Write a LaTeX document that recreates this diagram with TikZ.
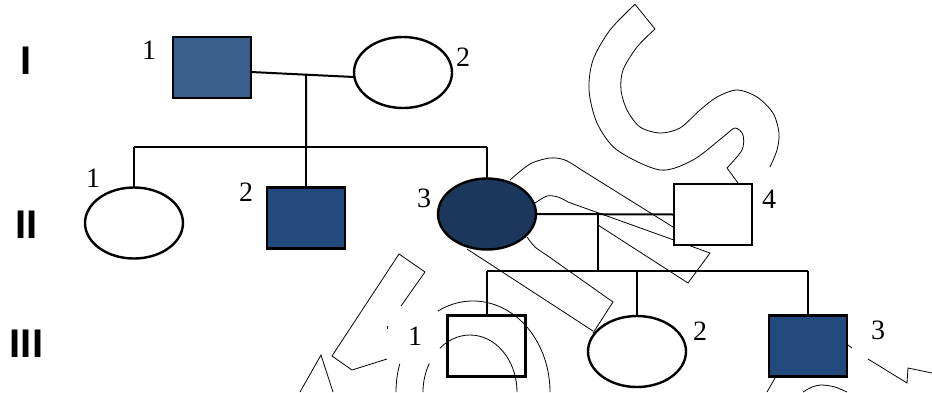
\documentclass[tikz,border=0pt]{standalone}
\usepackage{fontspec}
\setmainfont{Liberation Serif}
\newfontfamily\gensf{Liberation Sans}
\usetikzlibrary{shapes.geometric,calc}
\definecolor{bluea}{RGB}{58,95,140}
\definecolor{blueb}{RGB}{34,74,124}
\definecolor{bluec}{RGB}{27,55,92}
\tikzset{
  male/.style={draw=black,line width=2.4pt,rectangle,minimum width=78pt,minimum height=61pt,inner sep=0pt,outer sep=0pt},
  female/.style={draw=black,line width=2.4pt,ellipse,minimum width=98pt,minimum height=71pt,inner sep=0pt,outer sep=0pt},
  link/.style={draw=black,line width=2pt},
  wm/.style={draw=black,line width=0.8pt},
  num/.style={inner sep=0pt,font=\fontsize{28}{28}\selectfont},
  gen/.style={inner sep=0pt,font=\gensf\bfseries\fontsize{40}{40}\selectfont}
}
\begin{document}
\begin{tikzpicture}[x=1pt,y=-1pt]
\useasboundingbox (0,0) rectangle (932,392);
% watermark
\draw[wm] (635,4.3) -- (655,29);
\draw[wm] plot[smooth] coordinates {(635,4.3) (610,30) (593,60) (589,90) (597,123) (617,150) (660,170) (693,160) (723,137) (735,128) (743,135) (742,150) (727,168)} -- (738,183);
\draw[wm] plot[smooth] coordinates {(655,29) (637,47) (623,70) (621,90) (627,110) (640,127) (660,133) (680,128) (700,110) (717,97) (737,90) (757,97) (773,113) (779,133) (777,150) (770,167)};
\draw[wm] plot[smooth] coordinates {(510,180) (530,164) (550,158) (565,160) (580,169)} -- (673,227);
\draw[wm] plot[smooth] coordinates {(535,203) (547,196) (558,197) (568,202)} -- (710,253) -- (688,283) -- (598,225);
\draw[wm] plot[smooth] coordinates {(527,237) (535,247) (545,254)} -- (613,302) -- (593,333);
\draw[wm] (467,249) -- (593,331);
\draw[wm] (401,306) -- (425,272) -- (399,254) -- (332,356) -- (352,370) -- (387,359);
\draw[wm] (387,326) -- (387,328.5);
\draw[wm] (300,392) -- (321,355) -- (333,392);
\draw[wm] ([shift={(-117:77 and 91)}]473,392) arc[start angle=-117,end angle=0,x radius=77,y radius=91];
\draw[wm] ([shift={(-162:77 and 91)}]473,392) arc[start angle=-162,end angle=-180,x radius=77,y radius=91];
\draw[wm] ([shift={(-130:47 and 57)}]470,392) arc[start angle=-130,end angle=0,x radius=47,y radius=57];
\draw[wm] ([shift={(-150:47 and 57)}]470,392) arc[start angle=-150,end angle=-180,x radius=47,y radius=57];
\draw[wm] (868,359) -- (907,383) -- (908,368) -- (932,373);
\draw[wm] (848,345) -- (852,348);
\draw[wm] (775,378) -- (767,392);
\draw[wm] plot[smooth] coordinates {(803,392) (812,387) (822,385) (835,387) (847,392)};
% generation labels
\node[gen] (gI) at (26,60.5) {I};
\node[gen] (gII) at (26.5,225) {II};
\node[gen] (gIII) at (26.5,343.5) {III};
% individuals
\node[male,fill=bluea] (I1) at (212,67.5) {};
\node[female,fill=white] (I2) at (403,72.5) {};
\node[female,fill=white] (II1) at (134,223) {};
\node[male,fill=blueb] (II2) at (306,218) {};
\node[female,fill=bluec] (II3) at (487,214) {};
\node[male,fill=white] (II4) at (713,214.5) {};
\node[male] (III1) at (486.5,346) {};
\node[female,fill=white] (III2) at (637,351.5) {};
\node[male,fill=blueb] (III3) at (808,346) {};
% numbers
\node[num] (nI1) at (149,50) {1};
\node[num] (nI2) at (463,57) {2};
\node[num] (nII1) at (93,178) {1};
\node[num] (nII2) at (246,192) {2};
\node[num] (nII3) at (424,198) {3};
\node[num] (nII4) at (769,199) {4};
\node[num] (nIII1) at (415,336) {1};
\node[num] (nIII2) at (700,331) {2};
\node[num] (nIII3) at (878,330) {3};
% connectors
\coordinate (wI) at ([yshift=-4.5pt]I1.east);
\coordinate (eI) at ([yshift=-4.5pt]I2.west);
\draw[link] (wI) -- (eI);
\coordinate (m1) at ($(wI)!0.535!(eI)$);
\coordinate (s1) at (306,146.5);
\draw[link] (m1) -- (s1);
\draw[link] (II1.north |- s1) -- (II3.north |- s1);
\draw[link] (II1.north |- s1) -- (II1.north);
\draw[link] (s1) -- (II2.north);
\draw[link] (II3.north |- s1) -- (II3.north);
\draw[link] (II3.east) -- (II4.west);
\coordinate (m2) at ($(II3.east)!0.45!(II4.west)$);
\coordinate (s2) at (m2 |- 0,271);
\draw[link] (m2) -- (s2);
\draw[link] (III1.north |- s2) -- (III3.north |- s2);
\draw[link] (III1.north |- s2) -- (III1.north);
\draw[link] (III2.north |- s2) -- (III2.north);
\draw[link] (III3.north |- s2) -- (III3.north);
\end{tikzpicture}
\end{document}
